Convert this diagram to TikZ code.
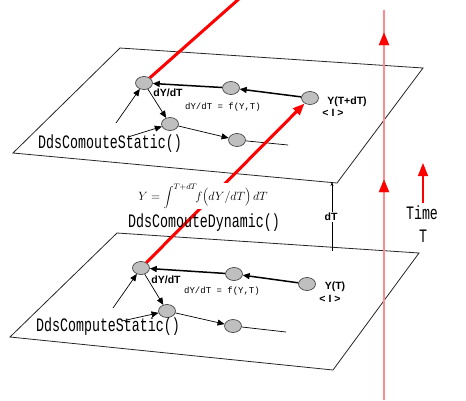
\documentclass[tikz,border=0pt]{standalone}
\usepackage{fontspec}
\newfontfamily\gth[FakeStretch=0.70]{Liberation Mono}
\newfontfamily\monof{Liberation Mono}
\newfontfamily\lsans{Liberation Sans}
\usetikzlibrary{arrows.meta,shapes.geometric}
\begin{document}
\begin{tikzpicture}[x=1pt,y=-1pt,
  gnode/.style={shape=ellipse,minimum width=17pt,minimum height=13pt,inner sep=0pt,fill=black!25,draw=black!80,line width=0.6pt},
  plane/.style={draw=black!85,line width=0.8pt},
  thickarr/.style={draw=black,line width=1.5pt,-{Triangle[length=7pt,width=6pt]}},
  thinarr/.style={draw=black,line width=0.7pt,-{Triangle[length=7pt,width=6pt]}},
  thinline/.style={draw=black,line width=0.7pt},
  bigtxt/.style={font=\gth\fontsize{19}{19}\selectfont,inner sep=0pt},
  bsmall/.style={font=\lsans\bfseries\fontsize{10.5}{10.5}\selectfont,inner sep=0pt},
  msmall/.style={font=\monof\fontsize{9}{9}\selectfont,inner sep=0pt},
  redthick/.style={draw=red,line width=3pt},
  redtip/.style={-{Triangle[length=12pt,width=9pt]}},
  palered/.style={draw=red!45,line width=1.6pt}
]
\useasboundingbox (0,0) rectangle (466,400);
% planes
\draw[plane] (120,48) -- (423,68) -- (337,183) -- (13,153) -- cycle;
\draw[plane] (117,233) -- (419,253) -- (333,370) -- (10,337) -- cycle;

% upper nodes
\node[gnode] (Au) at (144,83) {};
\node[gnode] (Bu) at (231,88) {};
\node[gnode] (Cu) at (310,98) {};
\node[gnode] (Du) at (170,124) {};
\node[gnode] (Eu) at (237,140) {};
\coordinate (eu) at (288,145);
\coordinate (au0) at (116,123);
\coordinate (du0) at (128,137);
% lower nodes
\node[gnode] (Al) at (141,268) {};
\node[gnode] (Bl) at (234,274) {};
\node[gnode] (Cl) at (307,284) {};
\node[gnode] (Dl) at (167,311) {};
\node[gnode] (El) at (233,326) {};
\coordinate (el) at (286,332);
\coordinate (al0) at (113,308);
\coordinate (dl0) at (122,321);

% upper connectors
\draw[thickarr] (Cu) -- (Bu);
\draw[thickarr] (Bu) -- (Au);
\draw[thinarr] (Au) -- (Du);
\draw[thinarr] (au0) -- (Au);
\draw[thinarr] (du0) -- (Du);
\draw[thinarr] (Du) -- (Eu);
\draw[thinline] (Eu) -- (eu);
% lower connectors
\draw[thickarr] (Cl) -- (Bl);
\draw[thickarr] (Bl) -- (Al);
\draw[thinarr] (Al) -- (Dl);
\draw[thinarr] (al0) -- (Al);
\draw[thinarr] (dl0) -- (Dl);
\draw[thinarr] (Dl) -- (El);
\draw[thinline] (El) -- (el);

% red lines
\coordinate (rtop) at (240,-2);
\draw[redthick] (Au) -- (rtop);
\draw[redthick,redtip] (Al) -- (Cu);

% dT arrow
\coordinate (dt0) at (332,251);
\coordinate (dt1) at (332,182);
\draw[thinline,-{Stealth[length=4pt,width=3pt]}] (dt0) -- (dt1);
\node[bsmall,fill=white,inner sep=1pt] (dtl) at (331,217) {dT};

% labels upper
\node[bsmall] (lu1) at (168,93) {dY/dT};
\node[msmall] (lu2) at (223,107) {dY/dT = f(Y,T)};
\node[bsmall] (lu3) at (347,102) {Y(T+dT)};
\node[bsmall] (lu4) at (333,113) {< I >};
\node[bigtxt] (su) at (110,144) {DdsComouteStatic()};
% labels lower
\node[bsmall] (ll1) at (166,280) {dY/dT};
\node[msmall] (ll2) at (222,291) {dY/dT = f(Y,T)};
\node[bsmall] (ll3) at (335,287) {Y(T)};
\node[bsmall] (ll4) at (330,299) {< I >};
\node[bigtxt] (sl) at (108,327) {DdsComputeStatic()};

% formula and dynamic
\node[fill=white,inner sep=1pt,font=\fontsize{11.5}{11.5}\selectfont] (form) at (203,196) {$Y = \displaystyle\int^{T+dT}\!\! f\Bigl(dY/dT\Bigr)\,dT$};
\node[bigtxt] (dyn) at (204,223) {DdsComouteDynamic()};

% time axis
\coordinate (v0) at (384,400);
\coordinate (v1) at (384,180);
\coordinate (v2) at (384,33);
\coordinate (v3) at (384,10);
\draw[palered] (v0) -- (v3);
\draw[draw=red,fill=red] (379,192) -- (384,180) -- (389,192) -- cycle;
\draw[draw=red,fill=red] (379,45) -- (384,33) -- (389,45) -- cycle;
\coordinate (t0) at (423,203);
\coordinate (t1) at (423,163);
\draw[draw=red,line width=1.5pt,-{Triangle[length=13pt,width=10pt]}] (t0) -- (t1);
\node[bigtxt] (time) at (422,213) {Time};
\node[bigtxt] (tt) at (423,236) {T};
\end{tikzpicture}
\end{document}
